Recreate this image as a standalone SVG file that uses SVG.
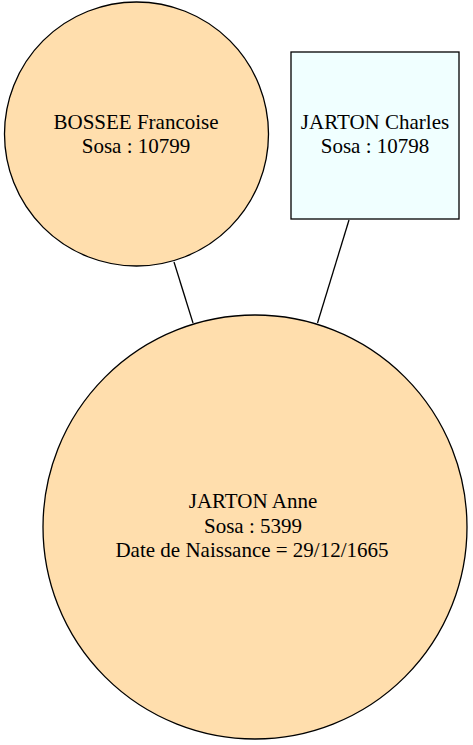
<svg xmlns="http://www.w3.org/2000/svg" width="473" height="745" viewBox="0 0 473 745">
<style>
.n{stroke:#000;stroke-width:1.3}
.f{fill:#FFDEAD}
.c{fill:#F0FFFF}
text{font-family:"Liberation Serif","Times New Roman",serif;font-size:21px;fill:#000;text-anchor:middle}
.e{stroke:#000;stroke-width:1.3;fill:none}
</style>
<rect width="473" height="745" fill="#fff"/>
<g id="edges">
<line class="e" x1="174" y1="262" x2="193" y2="323"/>
<line class="e" x1="349" y1="220" x2="317.5" y2="323"/>
</g>
<g id="bossee">
<circle class="n f" cx="136.5" cy="134" r="132"/>
<text x="136" y="128.5">BOSSEE Francoise</text>
<text x="136" y="153">Sosa : 10799</text>
</g>
<g id="charles">
<rect class="n c" x="291" y="52" width="168" height="167"/>
<text x="375" y="129">JARTON Charles</text>
<text x="375" y="153">Sosa : 10798</text>
</g>
<g id="anne">
<circle class="n f" cx="255" cy="527" r="212"/>
<text x="253" y="508">JARTON Anne</text>
<text x="253" y="533">Sosa : 5399</text>
<text x="252" y="557">Date de Naissance = 29/12/1665</text>
</g>
</svg>
